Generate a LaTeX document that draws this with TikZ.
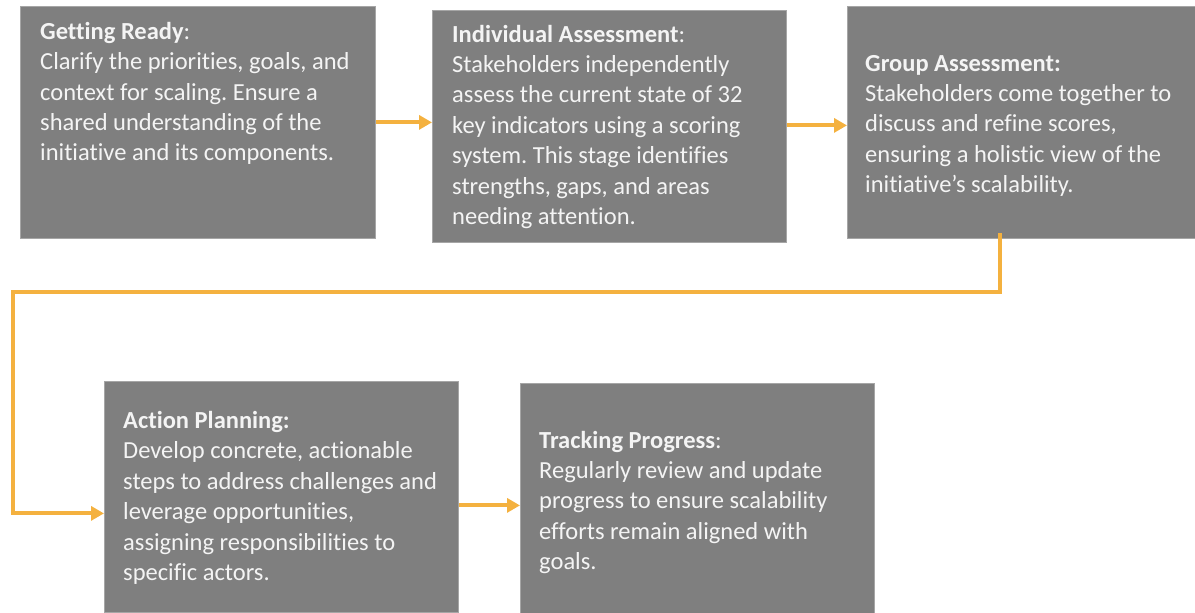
\documentclass[tikz,border=0pt]{standalone}
\usepackage{fontspec}
\setmainfont{Carlito}[Ligatures=NoCommon]
\usetikzlibrary{calc,arrows.meta}
\definecolor{boxgray}{HTML}{7F7F7F}
\definecolor{boxedge}{HTML}{A6A6A6}
\definecolor{flowor}{HTML}{F4B13F}
\definecolor{textwhite}{HTML}{F4F4F4}
\frenchspacing
\begin{document}
\begin{tikzpicture}[x=1pt,y=-1pt,
  stagebox/.style={draw=boxedge,line width=0.8pt,fill=boxgray,inner sep=0pt,anchor=north west},
  stagetext/.style={inner sep=0pt,align=left,text=textwhite,font=\fontsize{24.5}{30.4}\selectfont},
  flow/.style={draw=flowor,line width=4pt,-{Triangle[length=13pt,width=14pt]}}]
\useasboundingbox (0,0) rectangle (1195,613);
% stage boxes
\node[stagebox,minimum width=355pt,minimum height=232pt] (g1) at (20,6) {};
\node[stagebox,minimum width=354pt,minimum height=232pt] (g2) at (432,10) {};
\node[stagebox,minimum width=349pt,minimum height=232pt] (g3) at (847,6) {};
\node[stagebox,minimum width=354pt,minimum height=231pt] (g4) at (104,381) {};
\node[stagebox,minimum width=354pt,minimum height=230pt] (g5) at (520,383) {};
% stage texts
\node[stagetext,anchor=north west] (t1) at ($(g1.north west)+(20,16)$)
  {\textbf{Getting Ready}:\\Clarify the priorities, goals, and\\context for scaling. Ensure a\\shared understanding of the\\initiative and its components.};
\node[stagetext,anchor=west] (t2) at ($(g2.west)+(20,0.5)$)
  {\textbf{Individual Assessment}:\\Stakeholders independently\\assess the current state of 32\\key indicators using a scoring\\system. This stage identifies\\strengths, gaps, and areas\\needing attention.};
\node[stagetext,anchor=west] (t3) at ($(g3.west)+(18,3.5)$)
  {\textbf{Group Assessment:}\\Stakeholders come together to\\discuss and refine scores,\\ensuring a holistic view of the\\initiative’s scalability.};
\node[stagetext,anchor=west] (t4) at ($(g4.west)+(19,1)$)
  {\textbf{Action Planning:}\\Develop concrete, actionable\\steps to address challenges and\\leverage opportunities,\\assigning responsibilities to\\specific actors.};
\node[stagetext,anchor=west] (t5) at ($(g5.west)+(19,4)$)
  {\textbf{Tracking Progress}:\\Regularly review and update\\progress to ensure scalability\\efforts remain aligned with\\goals.};
% connectors
\draw[flow] (g1.east) -- (g1.east -| g2.west);
\draw[flow] ($(g2.east)+(0,-1)$) -- ($(g2.east -| g3.west)+(0,-1)$);
\coordinate (bend) at (13,292);
\draw[flow] ($(g3.south)+(-21.5,-6)$) |- (bend) |- ($(g4.west)+(0,16.5)$);
\draw[flow] ($(g4.east)+(0,8.5)$) -- ($(g4.east -| g5.west)+(0,8.5)$);
\end{tikzpicture}
\end{document}
